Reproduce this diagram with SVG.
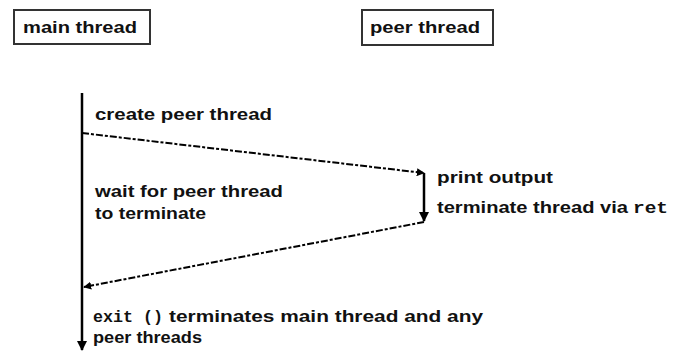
<svg xmlns="http://www.w3.org/2000/svg" width="675" height="354" viewBox="0 0 675 354">
  <style>
    .lbl { font-family: "Liberation Sans", Arial, sans-serif; font-weight: bold; font-size: 17px; fill: #111; }
    .mono { font-family: "Liberation Mono", "Courier New", monospace; font-weight: bold; font-size: 16px; fill: #111; }
    .box { fill: #fff; stroke: #333; stroke-width: 2; }
    .life { stroke: #000; stroke-width: 2.5; fill: none; }
    .msg { stroke: #000; stroke-width: 2; fill: none; stroke-dasharray: 7 2 3 2; }
  </style>
  <defs>
    <marker id="arrow" viewBox="0 0 10 10" refX="9" refY="5" markerWidth="4" markerHeight="4" orient="auto">
      <path d="M0,0 L10,5 L0,10 z" fill="#000"/>
    </marker>
  </defs>
  <rect width="675" height="354" fill="#fff"/>

  <g id="main-thread">
    <rect class="box" x="14" y="10" width="136" height="34"/>
    <text class="lbl" x="23" y="33" textLength="114" lengthAdjust="spacingAndGlyphs">main thread</text>
  </g>

  <g id="peer-thread">
    <rect class="box" x="362" y="10" width="131" height="35"/>
    <text class="lbl" x="370" y="33" textLength="110" lengthAdjust="spacingAndGlyphs">peer thread</text>
  </g>

  <g id="connectors">
    <!-- main thread timeline -->
    <line class="life" x1="82" y1="93" x2="82" y2="350" marker-end="url(#arrow)"/>
    <!-- spawn peer -->
    <line class="msg" x1="82" y1="133" x2="424" y2="173" marker-end="url(#arrow)"/>
    <!-- peer thread timeline -->
    <line class="life" x1="424" y1="173" x2="424" y2="221" marker-end="url(#arrow)"/>
    <!-- join back to main -->
    <line class="msg" x1="424" y1="222" x2="84" y2="287" marker-end="url(#arrow)"/>
  </g>

  <g id="labels">
    <text class="lbl" x="95" y="120" textLength="177" lengthAdjust="spacingAndGlyphs">create peer thread</text>
    <text class="lbl" x="95" y="197" textLength="188" lengthAdjust="spacingAndGlyphs">wait for peer thread</text>
    <text class="lbl" x="95" y="219" textLength="111" lengthAdjust="spacingAndGlyphs">to terminate</text>
    <text class="lbl" x="437" y="183" textLength="116" lengthAdjust="spacingAndGlyphs">print output</text>
    <text class="lbl" x="437" y="213" textLength="191" lengthAdjust="spacingAndGlyphs">terminate thread via</text>
    <text class="mono" x="633" y="213" textLength="35" lengthAdjust="spacingAndGlyphs">ret</text>
    <text class="mono" x="93" y="322" textLength="70" lengthAdjust="spacingAndGlyphs">exit ()</text>
    <text class="lbl" x="169" y="322" textLength="314" lengthAdjust="spacingAndGlyphs">terminates main thread and any</text>
    <text class="lbl" x="93" y="343" textLength="109" lengthAdjust="spacingAndGlyphs">peer threads</text>
  </g>
</svg>
